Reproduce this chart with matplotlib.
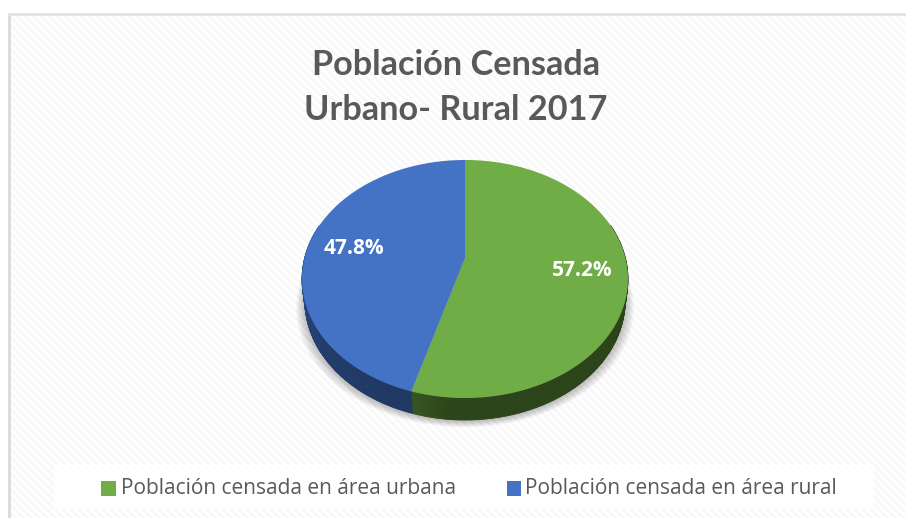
import numpy as np
import matplotlib
matplotlib.use("Agg")
import matplotlib.pyplot as plt
from matplotlib.colors import to_rgb
from matplotlib.patches import Rectangle

title_lines = ["Población Censada", "Urbano- Rural 2017"]
categories = ["Población censada en área urbana", "Población censada en área rural"]
values = [57.2, 47.8]
labels = ["57.2%", "47.8%"]
top_colors = ["#70ad47", "#4472c4"]
side_colors = ["#2b4419", "#203864"]
side_light = ["#3a5a22", "#2f5496"]

W, H = 906, 518
cx, cy = 465, 258
depth = 22
persp = 0.1765
a_x, a_y = 160.4, 115.3
rim_shrink = 0.982


# tilted disc: unit circle to pixel position, with perspective
def project(u, v, drop=0):
    w = 1 + persp * v
    return cx + a_x * u / w, cy - a_y * v / w + drop


def arc(t0, t1, drop=0, n=200):
    # angles clockwise from 12 o'clock
    t = np.linspace(t0, t1, n)
    return project(np.sin(t), np.cos(t), drop)


fig = plt.figure(figsize=(W / 100, H / 100), dpi=100)
ax = fig.add_axes([0, 0, 1, 1])
ax.axis("off")

# striped background of the chart area
yy, xx = np.mgrid[0:H, 0:W]
stripes = np.where((xx - yy) % 8 < 4, 1.0, 0.972)
ax.imshow(stripes, cmap="gray", vmin=0, vmax=1, extent=[9, W + 9, H + 13, 13],
          aspect="auto", zorder=0, interpolation="nearest")
ax.set_xlim(0, W)
ax.set_ylim(H, 0)
ax.plot([9, 9], [H, 14], color="#d9d9d9", lw=2, zorder=1)
ax.plot([9, W], [14, 14], color="#e2e2e2", lw=2, zorder=1)

# soft shadow under the pie
tt = np.linspace(0, 2 * np.pi, 300)
for grow in np.linspace(9, 0, 10):
    sx, sy = project(np.sin(tt), np.cos(tt), depth + 1)
    sx = cx + (sx - cx) * (rim_shrink + grow / 163)
    sy = sy + grow * 0.7
    ax.fill(sx, sy, color="black", alpha=0.028, lw=0, zorder=2)

fractions = np.array(values) / sum(values)
edges = np.concatenate([[0], np.cumsum(fractions)]) * 2 * np.pi

# side wall, drawn as thin strips so the colour can shade along the rim
for i in range(2):
    dark = np.array(to_rgb(side_colors[i]))
    light = np.array(to_rgb(side_light[i]))
    ts = np.linspace(edges[i], edges[i + 1], 260)
    for t0, t1 in zip(ts[:-1], ts[1:]):
        if np.cos((t0 + t1) / 2) > 0.3:
            continue
        x0, y0 = arc(t0, t1, 0, 4)
        x1, y1 = arc(t0, t1, depth, 4)
        x1 = cx + (x1 - cx) * rim_shrink
        if i == 1:
            mix = np.clip((t0 - edges[1]) / (edges[2] - edges[1]) * 1.9, 0, 1) ** 2
        else:
            mix = np.clip((t0 - edges[1] + 0.22) / 0.22, 0, 1) * 0.8
        col = dark * (1 - mix) + light * mix
        ax.fill(np.r_[x0, x1[::-1]], np.r_[y0, y1[::-1]], facecolor=col, edgecolor=col, lw=0.6, zorder=3)

# top face
for i in range(2):
    x, y = arc(edges[i], edges[i + 1])
    ax.fill(np.r_[cx, x], np.r_[cy, y], color=top_colors[i], lw=0, zorder=4)

ax.text(582, 271, labels[0], color="white", fontsize=15, fontweight="bold",
        family="Open Sans", ha="center", va="center", zorder=5)
ax.text(354, 248, labels[1], color="white", fontsize=15, fontweight="bold",
        family="Open Sans", ha="center", va="center", zorder=5)

ax.text(456, 65, title_lines[0], color="#595959", fontsize=24.7, fontweight="bold",
        family="Lato", ha="center", va="center", zorder=5)
ax.text(456, 110, title_lines[1], color="#595959", fontsize=24.7, fontweight="bold",
        family="Lato", ha="center", va="center", zorder=5)

# legend band
ax.add_patch(Rectangle((54, 465), 820, 45, facecolor="white", edgecolor="none", alpha=0.9, zorder=4))
ax.add_patch(Rectangle((101, 481), 15, 15, facecolor=top_colors[0], edgecolor="none", zorder=5))
ax.add_patch(Rectangle((507, 481), 14, 15, facecolor=top_colors[1], edgecolor="none", zorder=5))
ax.text(121, 488, categories[0], color="#595959", fontsize=15, family="Open Sans",
        ha="left", va="center", zorder=5)
ax.text(525, 488, categories[1], color="#595959", fontsize=15, family="Open Sans",
        ha="left", va="center", zorder=5)

fig.savefig("out.png", dpi=100, facecolor="white")
